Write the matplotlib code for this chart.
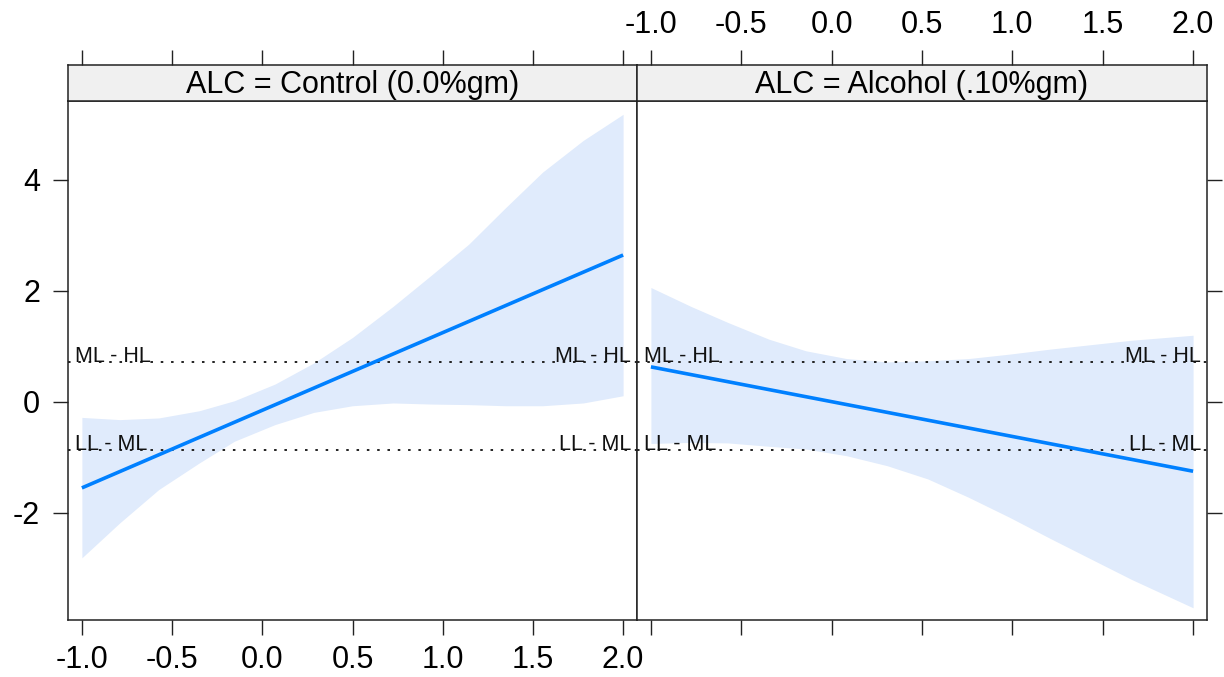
import matplotlib
matplotlib.use("Agg")
import matplotlib.pyplot as plt
from matplotlib import font_manager

plt.rcParams['font.family'] = ['Liberation Sans', 'DejaVu Sans']
plt.rcParams['axes.unicode_minus'] = False

# ---------------------------------------------------------------------------
# data
panel_titles = ['ALC = Control (0.0%gm)', 'ALC = Alcohol (.10%gm)']

x_line = [-1.0, 2.0]
fit_control = [-1.55, 2.645]
fit_alcohol = [0.63, -1.25]

# confidence band, control panel
bx_control = [-1.0, -0.79, -0.574, -0.349, -0.155, 0.07, 0.285, 0.5, 0.725, 0.94, 1.144, 1.349, 1.554, 1.779, 2.0]
up_control = [-0.28, -0.32, -0.29, -0.16, 0.02, 0.32, 0.70, 1.16, 1.72, 2.29, 2.84, 3.50, 4.14, 4.71, 5.18]
lo_control = [-2.81, -2.18, -1.58, -1.10, -0.71, -0.41, -0.19, -0.07, -0.02, -0.04, -0.05, -0.07, -0.07, -0.02, 0.11]

# confidence band, alcohol panel
bx_alcohol = [-1.0, -0.779, -0.574, -0.348, -0.143, 0.082, 0.307, 0.533, 0.758, 0.984, 1.209, 1.434, 1.66, 2.0]
up_alcohol = [2.06, 1.72, 1.43, 1.13, 0.92, 0.78, 0.72, 0.74, 0.78, 0.86, 0.95, 1.03, 1.11, 1.20]
lo_alcohol = [-0.75, -0.73, -0.74, -0.80, -0.85, -0.97, -1.15, -1.39, -1.72, -2.08, -2.46, -2.83, -3.20, -3.71]

cut_levels = [0.72, -0.865]
cut_labels = ['ML - HL', 'LL - ML']

x_ticks = [-1.0, -0.5, 0.0, 0.5, 1.0, 1.5, 2.0]
x_ticklabels = ['-1.0', '-0.5', '0.0', '0.5', '1.0', '1.5', '2.0']
y_ticks = [-2, 0, 2, 4]

# ---------------------------------------------------------------------------
line_col = '#0080ff'
band_col = '#e0ebfc'
frame_col = '#222222'
tick_fs = 22
tick_len = 11

narrow = 'Liberation Sans Narrow'
avail = {f.name for f in font_manager.fontManager.ttflist}
if narrow in avail:
    lab_family, lab_fs = [narrow, 'Liberation Sans'], 17.5
else:
    lab_family, lab_fs = ['Liberation Sans'], 15.5

W, H = 1224, 677
fig = plt.figure(figsize=(W / 100, H / 100), dpi=100)

left, mid, right = 68 / W, 637 / W, 1207 / W
bottom, top, strip_top = 1 - 620 / H, 1 - 101 / H, 1 - 65 / H

ax1 = fig.add_axes([left, bottom, mid - left, top - bottom])
ax2 = fig.add_axes([mid, bottom, right - mid, top - bottom], sharey=ax1)
s1 = fig.add_axes([left, top, mid - left, strip_top - top], sharex=ax1)
s2 = fig.add_axes([mid, top, right - mid, strip_top - top], sharex=ax2)

panels = [
    (ax1, s1, bx_control, up_control, lo_control, fit_control),
    (ax2, s2, bx_alcohol, up_alcohol, lo_alcohol, fit_alcohol),
]

for i, (ax, st, bx, up, lo, fit) in enumerate(panels):
    ax.fill_between(bx, lo, up, color=band_col, lw=0, zorder=1)
    ax.plot(x_line, fit, color=line_col, lw=2.6, solid_capstyle='butt', zorder=3)
    for lev, lab in zip(cut_levels, cut_labels):
        ax.axhline(lev, color='#222222', lw=1.4, linestyle=(0, (1.3, 4.0)), zorder=2)
        ax.text(0.012, lev, lab, transform=ax.get_yaxis_transform(), ha='left', va='baseline',
                fontsize=lab_fs, family=lab_family, color='#111111', zorder=4)
        ax.text(0.99, lev, lab, transform=ax.get_yaxis_transform(), ha='right', va='baseline',
                fontsize=lab_fs, family=lab_family, color='#111111', zorder=4)

    ax.set_xlim(-1.077, 2.077)
    ax.set_ylim(-3.93, 5.42)
    ax.set_xticks(x_ticks)
    ax.set_yticks(y_ticks)

    # strip
    st.set_facecolor('#f0f0f0')
    st.set_yticks([])
    st.text(0.5, 0.45, panel_titles[i], transform=st.transAxes, ha='center', va='center',
            fontsize=tick_fs)

    for a in (ax, st):
        for sp in a.spines.values():
            sp.set_color(frame_col)
            sp.set_linewidth(1.1)

    st.tick_params(axis='x', which='both', bottom=False, top=True, labelbottom=False,
                   direction='out', length=tick_len, width=1.0, color=frame_col,
                   labeltop=(i == 1), labelsize=tick_fs, pad=7)
    ax.tick_params(axis='x', bottom=True, top=False, labelbottom=(i == 0), labeltop=False,
                   direction='out', length=tick_len, width=1.0, color=frame_col,
                   labelsize=tick_fs, pad=7)
    ax.set_xticklabels(x_ticklabels)
    st.set_xticks(x_ticks)
    st.set_xticklabels(x_ticklabels)

ax1.tick_params(axis='y', left=True, right=False, labelleft=True, direction='out',
                length=tick_len, width=1.0, color=frame_col, labelsize=tick_fs, pad=9)
ax2.tick_params(axis='y', left=False, right=True, labelleft=False, labelright=False,
                direction='out', length=tick_len, width=1.0, color=frame_col)

fig.savefig('out.png', dpi=100, facecolor='white')
